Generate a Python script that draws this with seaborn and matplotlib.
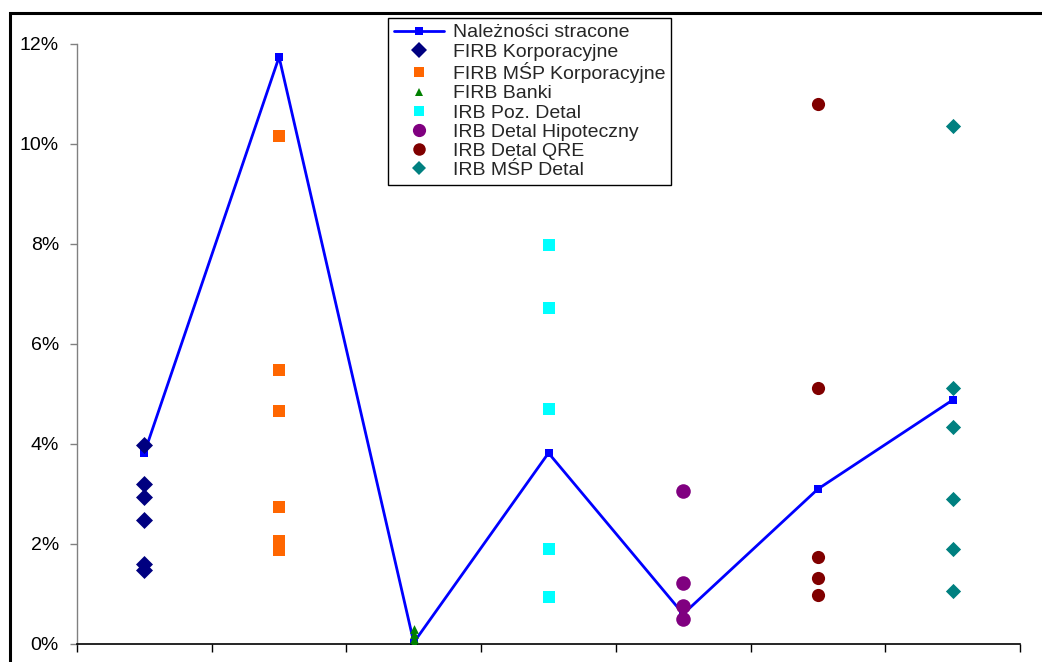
import matplotlib
matplotlib.use("Agg")
import matplotlib.pyplot as plt
import seaborn as sns
import pandas as pd
from matplotlib.ticker import PercentFormatter, FixedLocator
from matplotlib.patches import Rectangle
from matplotlib.lines import Line2D

sns.set_theme(style="white")
plt.rcParams['font.family'] = ['Liberation Sans', 'DejaVu Sans']

# ---- data (fractions) ----
positions = [0, 1, 2, 3, 4, 5, 6]
line_label = "Należności stracone"
line_values = [0.0382, 0.1174, 0.0003, 0.0382, 0.0060, 0.0310, 0.0488]

series_names = ["FIRB Korporacyjne", "FIRB MŚP Korporacyjne", "FIRB Banki",
                "IRB Poz. Detal", "IRB Detal Hipoteczny", "IRB Detal QRE",
                "IRB MŚP Detal"]
firb_korp = [0.0398, 0.0321, 0.0295, 0.0248, 0.0161, 0.0148]
firb_msp_korp = [0.1017, 0.0549, 0.0467, 0.0275, 0.0207, 0.0189]
firb_banki = [0.0030, 0.0020, 0.0010, 0.0002]
irb_poz = [0.0799, 0.0671, 0.0471, 0.0190, 0.0095]
irb_hip = [0.0306, 0.0123, 0.0076, 0.0050]
irb_qre = [0.1081, 0.0513, 0.0175, 0.0133, 0.0099]
irb_msp = [0.1036, 0.0512, 0.0434, 0.0290, 0.0190, 0.0106]
series_values = [firb_korp, firb_msp_korp, firb_banki, irb_poz, irb_hip, irb_qre, irb_msp]

colors = ["#000080", "#FF6600", "#008000", "#00FFFF", "#800080", "#800000", "#008080"]
markers = ["D", "s", "^", "s", "o", "o", "D"]
sizes = [75, 70, 40, 70, 110, 90, 60]
legend_ms = [8, 7, 5.5, 7, 9.5, 9, 7.5]

fig = plt.figure(figsize=(10.42, 6.62), dpi=100)
ax = fig.add_axes([77/1042, 1-644/662, (1020-77)/1042, (644-44)/662])

line_df = pd.DataFrame({"x": positions, "y": line_values})
sns.lineplot(data=line_df, x="x", y="y", ax=ax, color="#0000FF", linewidth=2.0,
             marker="s", markersize=6, markeredgewidth=0, label=line_label,
             legend=False, zorder=2)

for name, vals, c, m, s in zip(series_names, series_values, colors, markers, sizes):
    pos = positions[series_names.index(name)]
    df = pd.DataFrame({"x": [pos] * len(vals), "y": vals})
    sns.scatterplot(data=df, x="x", y="y", ax=ax, color=c, marker=m, s=s,
                    linewidth=0, label=name, legend=False, zorder=3)

ax.set_xlim(-0.5, 6.5)
ax.set_ylim(0, 0.12)
ax.set_xlabel("")
ax.set_ylabel("")
ax.yaxis.set_major_locator(FixedLocator([0, 0.02, 0.04, 0.06, 0.08, 0.10, 0.12]))
ax.yaxis.set_major_formatter(PercentFormatter(1.0, decimals=0))
ax.xaxis.set_major_locator(FixedLocator([p - 0.5 for p in positions] + [6.5]))
ax.set_xticklabels([])
for sp in ["top", "right"]:
    ax.spines[sp].set_visible(False)
ax.spines["left"].set_color("#808080")
ax.spines["left"].set_linewidth(1.0)
ax.spines["bottom"].set_color("black")
ax.spines["bottom"].set_linewidth(1.2)
ax.tick_params(axis="y", which="major", direction="out", length=5, width=1,
               color="#808080", labelsize=14, labelcolor="black", left=True, pad=8)
ax.tick_params(axis="x", which="major", direction="out", length=6, width=1,
               color="black", bottom=True)

handles = [Line2D([], [], color="#0000FF", lw=2.0, marker="s", markersize=6,
                  markeredgewidth=0)]
for c, m, ms in zip(colors, markers, legend_ms):
    handles.append(Line2D([], [], color=c, lw=0, marker=m,
                          markersize=ms, markeredgewidth=0))
leg = ax.legend(handles, [line_label] + series_names, loc="upper left",
                bbox_to_anchor=(388/1042, 1-18/662), bbox_transform=fig.transFigure,
                fontsize=14, frameon=True, fancybox=False, framealpha=1,
                edgecolor="black", labelspacing=0.08, handlelength=2.6,
                handletextpad=0.45, borderpad=0.3, borderaxespad=0)
leg.get_frame().set_linewidth(1.0)

fig.patches.append(Rectangle((10/1042, -0.2), 1.2, 0.2 + 1 - 13/662,
                             transform=fig.transFigure, fill=False,
                             edgecolor="black", linewidth=2.2, clip_on=False))

fig.savefig("out.png", dpi=100)
